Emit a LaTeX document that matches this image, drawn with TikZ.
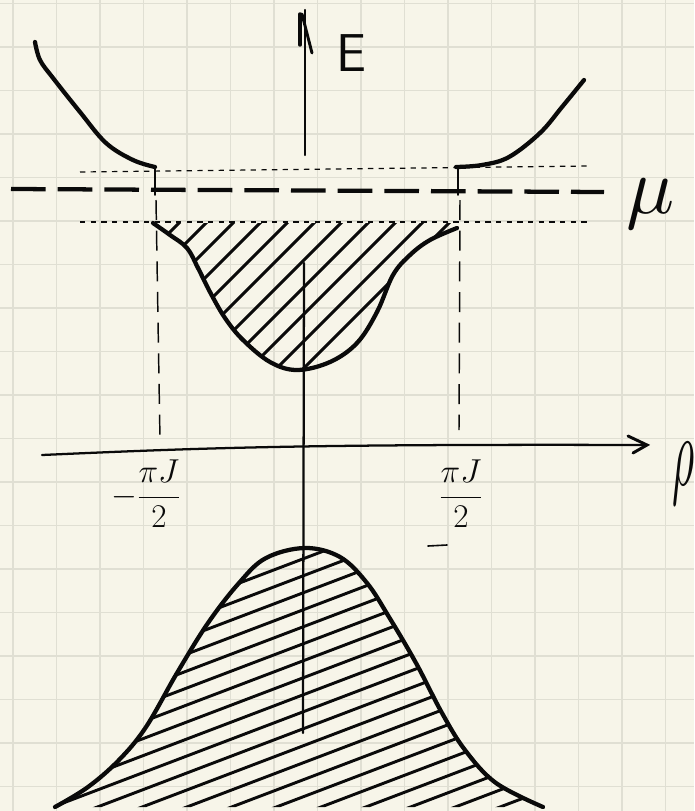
\documentclass[tikz,border=0pt]{standalone}
\definecolor{paper}{HTML}{F7F5E9}
\definecolor{gridc}{HTML}{E0DFD3}
\definecolor{ink}{HTML}{0A0A0A}
\tikzset{
  gridline/.style={draw=gridc, line width=1pt},
  curve/.style={draw=ink, line width=3.2pt, line cap=round, line join=round},
  hatchline/.style={draw=ink, line width=2.2pt, line cap=round},
  axisline/.style={draw=ink, line width=1.7pt, line cap=round},
  mudash/.style={draw=ink, line width=3.2pt, dash pattern=on 26pt off 9pt},
  dotline/.style={draw=ink, line width=0.9pt, dash pattern=on 4pt off 4pt},
  vdashline/.style={draw=ink, line width=1.1pt, dash pattern=on 15pt off 8pt},
  lab/.style={inner sep=0pt, text=ink}
}
\begin{document}
\begin{tikzpicture}[x=0.75pt,y=-0.75pt]
\fill[paper] (0,0) rectangle (694,811);
\useasboundingbox (0,0) rectangle (694,811);
% grid
\foreach \i in {0,...,15} \draw[gridline] ({13+43.5*\i},0) -- ({13+43.5*\i},811);
\foreach \j in {0,...,18} \draw[gridline] (0,{3.5+43.5*\j}) -- (694,{3.5+43.5*\j});

% E axis
\draw[axisline] (305,10) -- (305,155);
\draw[axisline] (304,263) -- (303,733);
\draw[curve, line width=2.6pt] (300,14) -- (300,45);
\draw[axisline, line width=2.2pt] (302,14) -- (312,53);
\node[lab] (E) at (351,53) {\fontsize{40}{40}\selectfont\textsf{E}};

% upper branches
\draw[curve] plot[smooth, tension=0.6] coordinates {(35,42) (40,60) (53,78) (80,112) (106,143) (133,160) (155,167)};
\draw[curve] plot[smooth, tension=0.6] coordinates {(456,167) (482,165) (509,157) (540,133) (562,107) (584,80)};

% dotted band edges
\draw[dotline] (80,172) -- (588,166);
\draw[dotline] (80,222) -- (590,222);

% mu line
\draw[mudash] (11,189) -- (604,192);
\node[lab, scale=6] (mu) at (651,204) {$\mu$};

% vertical dashed lines
\draw[axisline, line width=1.2pt] (155,167) -- (155,195);
\draw[axisline, line width=1.2pt] (458,167) -- (458,195);
\draw[vdashline] (156,200) -- (160,440);
\draw[vdashline] (460,200) -- (459,430);

% lower band of upper part (hatched)
\begin{scope}
\clip plot[smooth, tension=0.6] coordinates {(153,223) (170,235) (187,248) (198,268) (210,292) (225,318) (243,340) (270,362) (297,370) (330,362) (357,343) (377,312) (393,275) (410,255) (430,240) (457,228)} -- (457,223) -- cycle;
\foreach \c in {402,429,...,680} \draw[hatchline] (\c-400,400) -- (\c-150,150);
\end{scope}
\draw[curve] plot[smooth, tension=0.6] coordinates {(153,223) (170,235) (187,248) (198,268) (210,292) (225,318) (243,340) (270,362) (297,370) (330,362) (357,343) (377,312) (393,275) (410,255) (430,240) (457,228)};

% p axis
\draw[axisline] (42,455) .. controls (200,448) and (300,444) .. (646,445);
\draw[axisline, line width=2.2pt] (628,436) -- (647,445) -- (633,453);
\node[lab, xscale=3.2, yscale=7.5] (rho) at (684,474) {$\rho$};

% tick labels
\node[lab] (lpi) at (146,494) {\fontsize{24}{28}\selectfont$\displaystyle-\frac{\pi J}{2}$};
\node[lab] (rpi) at (461,494) {\fontsize{24}{28}\selectfont$\displaystyle\frac{\pi J}{2}$};
\draw[axisline, line width=1.2pt] (428,546) -- (447,545);

% lower hump (hatched)
\begin{scope}
\clip plot[smooth, tension=0.6] coordinates {(55,807) (88,787) (119,760) (146,727) (177,673) (208,623) (239,583) (266,558) (305,548) (340,557) (367,583) (389,617) (416,663) (442,713) (465,750) (496,783) (543,807)} -- cycle;
\foreach \c in {572,589,...,1020} \draw[hatchline] (40,{\c-0.38*40}) -- (560,{\c-0.38*560});
\end{scope}
\draw[curve] plot[smooth, tension=0.6] coordinates {(55,807) (88,787) (119,760) (146,727) (177,673) (208,623) (239,583) (266,558) (305,548) (340,557) (367,583) (389,617) (416,663) (442,713) (465,750) (496,783) (543,807)};
\end{tikzpicture}
\end{document}
